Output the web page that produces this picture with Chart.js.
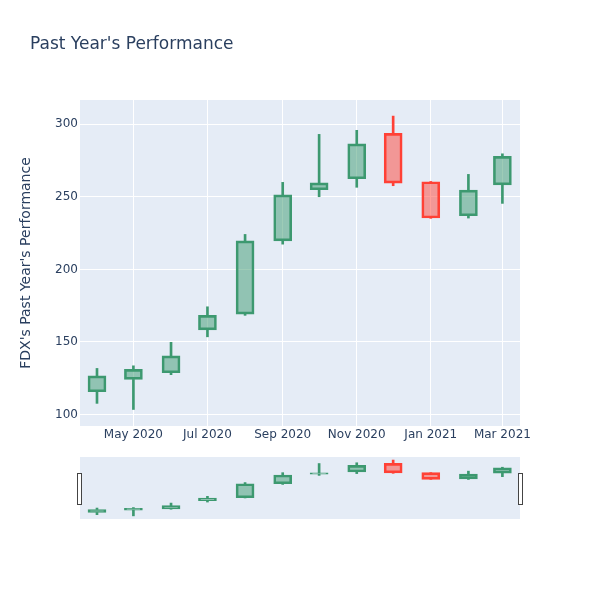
<!DOCTYPE html>
<html>
<head>
<meta charset="utf-8">
<script src="https://cdn.jsdelivr.net/npm/chart.js@4.4.1/dist/chart.umd.min.js"></script>
<style>
  body { margin: 0; background: #fff; }
  #wrap { position: relative; width: 600px; height: 600px; }
  #wrap canvas { position: absolute; left: 0; top: 0; }
</style>
</head>
<body>
<div id="wrap">
  <canvas id="main" width="600" height="600"></canvas>
  <canvas id="slider" width="600" height="600"></canvas>
</div>
<script>
// monthly candles, FDX
const months = ["2020-04-01", "2020-05-01", "2020-06-01", "2020-07-01", "2020-08-01", "2020-09-01",
  "2020-10-01", "2020-11-01", "2020-12-01", "2021-01-01", "2021-02-01", "2021-03-01"];
const openVals = [115.6, 124.1, 128.7, 158.3, 169.2, 219.7, 254.9, 262.5, 293.8, 260.4, 237.0, 258.3];
const highVals = [131.7, 133.5, 149.7, 174.2, 224.1, 260.0, 293.1, 295.9, 305.7, 260.6, 265.5, 279.7];
const lowVals = [107.6, 103.4, 127.4, 153.5, 168.3, 217.4, 250.1, 256.6, 257.7, 235.2, 235.4, 245.5];
const closeVals = [126.6, 131.0, 140.4, 168.3, 219.7, 251.4, 259.7, 286.6, 259.5, 235.4, 254.7, 277.9];

const tickDates = ["2020-05-01", "2020-07-01", "2020-09-01", "2020-11-01", "2021-01-01", "2021-03-01"];
const tickLabels = ["May 2020", "Jul 2020", "Sep 2020", "Nov 2020", "Jan 2021", "Mar 2021"];
const yTicks = [100, 150, 200, 250, 300];

const chartTitle = "Past Year's Performance";
const yTitle = "FDX's Past Year's Performance";

const FONT = "'DejaVu Sans', sans-serif";
const TEXT = "#2a3f5f";
const UP = "#3D9970", UP_FILL = "rgba(61,153,112,0.5)";
const DOWN = "#FF4136", DOWN_FILL = "rgba(255,65,54,0.5)";

const day = 86400000;
const ts = (s) => Date.parse(s + "T00:00:00Z");
const xs = months.map(ts);
const xMin = xs[0] - 14 * day;
const xMax = xs[xs.length - 1] + 14.5 * day;

const isUp = openVals.map((o, i) => closeVals[i] >= o);
const lineCol = isUp.map((u) => (u ? UP : DOWN));
const fillCol = isUp.map((u) => (u ? UP_FILL : DOWN_FILL));

function candleSets(boxW, border) {
  return [
    {
      data: xs.map((x, i) => ({ x: x, y: [Math.max(openVals[i], closeVals[i]), highVals[i]] })),
      backgroundColor: lineCol, borderWidth: 0, barThickness: 2, grouped: false,
    },
    {
      data: xs.map((x, i) => ({ x: x, y: [lowVals[i], Math.min(openVals[i], closeVals[i])] })),
      backgroundColor: lineCol, borderWidth: 0, barThickness: 2, grouped: false,
    },
    {
      data: xs.map((x, i) => ({ x: x, y: [openVals[i], closeVals[i]] })),
      backgroundColor: fillCol, borderColor: lineCol, borderWidth: border,
      borderSkipped: false, barThickness: boxW, grouped: false,
    },
  ];
}

const areaBg = {
  id: "areaBg",
  beforeDraw(chart) {
    const a = chart.chartArea, ctx = chart.ctx;
    ctx.save();
    ctx.fillStyle = "#E5ECF6";
    ctx.fillRect(a.left, a.top, a.right - a.left, a.bottom - a.top);
    ctx.restore();
  },
};

const titleText = {
  id: "titleText",
  afterDraw(chart) {
    const ctx = chart.ctx;
    ctx.save();
    ctx.font = "17px " + FONT;
    ctx.fillStyle = TEXT;
    ctx.textBaseline = "middle";
    ctx.fillText(chartTitle, 30, 45);
    ctx.restore();
  },
};

new Chart(document.getElementById("main"), {
  type: "bar",
  data: { datasets: candleSets(18, 2) },
  options: {
    responsive: false,
    animation: false,
    layout: { padding: { top: 100, right: 80, bottom: 144, left: 0 } },
    plugins: { legend: { display: false }, tooltip: { enabled: false } },
    scales: {
      x: {
        type: "linear",
        offset: false,
        min: xMin,
        max: xMax,
        afterBuildTicks: (s) => { s.ticks = tickDates.map((d) => ({ value: ts(d) })); },
        afterFit: (s) => { s.height = 30; },
        ticks: {
          color: TEXT, font: { family: FONT, size: 12 }, padding: 2, maxRotation: 0,
          callback: (v) => tickLabels[tickDates.map(ts).indexOf(v)],
        },
        grid: { color: "#fff", lineWidth: 1, drawTicks: false, offset: false },
        border: { display: false },
      },
      y: {
        min: 92,
        max: 316.8,
        afterBuildTicks: (s) => { s.ticks = yTicks.map((v) => ({ value: v })); },
        afterFit: (s) => { s.width = 80; },
        ticks: { color: TEXT, font: { family: FONT, size: 12 }, padding: 2 },
        grid: { color: "#fff", lineWidth: 1, drawTicks: false },
        border: { display: false },
        title: {
          display: true, text: yTitle, color: TEXT,
          font: { family: FONT, size: 14 }, padding: { top: 18, bottom: 0 },
        },
      },
    },
  },
  plugins: [areaBg, titleText],
});

// range slider
const handles = {
  id: "handles",
  afterDraw(chart) {
    const a = chart.chartArea, ctx = chart.ctx;
    ctx.save();
    ctx.fillStyle = "#fff";
    ctx.strokeStyle = "#444";
    ctx.lineWidth = 1;
    [a.left - 3, a.right - 2].forEach((x) => {
      ctx.fillRect(x, 473, 5, 32);
      ctx.strokeRect(x + 0.5, 473.5, 4, 31);
    });
    ctx.restore();
  },
};

new Chart(document.getElementById("slider"), {
  type: "bar",
  data: { datasets: candleSets(18, 2) },
  options: {
    responsive: false,
    animation: false,
    layout: { padding: { top: 457, right: 80, bottom: 81, left: 80 } },
    plugins: { legend: { display: false }, tooltip: { enabled: false } },
    scales: {
      x: { type: "linear", offset: false, min: xMin, max: xMax, display: false },
      y: { min: 92, max: 316.8, display: false },
    },
  },
  plugins: [areaBg, handles],
});
</script>
</body>
</html>
